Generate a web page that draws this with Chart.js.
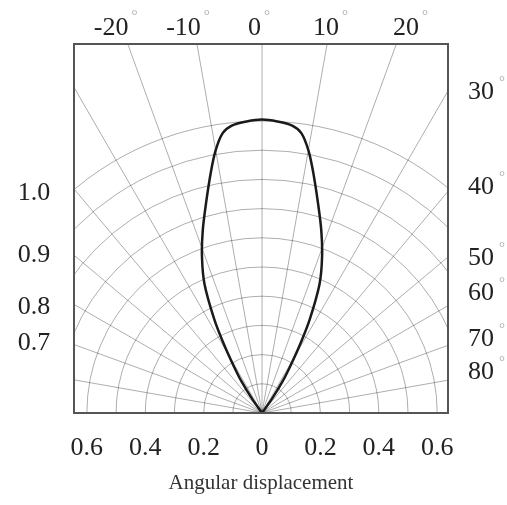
<!DOCTYPE html>
<html>
<head>
<meta charset="utf-8">
<script src="https://cdn.jsdelivr.net/npm/chart.js@4.4.1/dist/chart.umd.min.js"></script>
<style>
  html, body { margin: 0; padding: 0; background: #fff; }
  #wrap { width: 507px; height: 505px; }
</style>
</head>
<body>
<div id="wrap"><canvas id="chart"></canvas></div>
<script>
// lobe: angle from axis (deg) and relative intensity
var lobeAngles = [-35, -33, -31, -29, -27, -24, -21, -18, -15, -12, -10, -8, -6, -3, 0, 3, 6, 8, 10, 12, 15, 18, 21, 24, 27, 29, 31, 33, 35];
var lobeIntensity = [0.06, 0.13, 0.19, 0.27, 0.36, 0.485, 0.574, 0.657, 0.742, 0.843, 0.914, 0.968, 0.99, 1.0, 1.005, 1.0, 0.99, 0.968, 0.914, 0.843, 0.742, 0.657, 0.574, 0.485, 0.36, 0.27, 0.19, 0.13, 0.06];

var xTicks = [-0.6, -0.4, -0.2, 0, 0.2, 0.4, 0.6];
var ringValues = [0.1, 0.2, 0.3, 0.4, 0.5, 0.6, 0.7, 0.8, 0.9, 1.0];
var rayAngles = [-80, -70, -60, -50, -40, -30, -20, -10, 0, 10, 20, 30, 40, 50, 60, 70, 80];

var topLabels = ['-20', '-10', '0', '10', '20'];
var topLabelPos = [-0.517, -0.269, -0.026, 0.219, 0.493];
var rightLabels = ['30', '40', '50', '60', '70', '80'];
var rightLabelPos = [1.099, 0.774, 0.531, 0.411, 0.253, 0.140];
var leftLabels = ['1.0', '0.9', '0.8', '0.7'];
var leftLabelPos = [0.753, 0.541, 0.363, 0.240];

// polar -> x/y values, closed at the origin on both ends
var lobePoints = [{x: 0, y: 0}];
for (var i = 0; i < lobeAngles.length; i++) {
    var a = lobeAngles[i] * Math.PI / 180;
    lobePoints.push({x: lobeIntensity[i] * Math.sin(a), y: lobeIntensity[i] * Math.cos(a)});
}
lobePoints.push({x: 0, y: 0});

var serif = '"Liberation Serif", "Times New Roman", serif';

var polarGrid = {
    id: 'polarGrid',
    beforeDatasetsDraw: function(chart) {
        var ctx = chart.ctx, area = chart.chartArea;
        var xs = chart.scales.x, ys = chart.scales.y;
        var ox = xs.getPixelForValue(0), oy = ys.getPixelForValue(0);
        var unit = xs.getPixelForValue(1) - ox;
        ctx.save();
        ctx.beginPath();
        ctx.rect(area.left, area.top, area.right - area.left, area.bottom - area.top);
        ctx.clip();
        ctx.strokeStyle = 'rgba(0,0,0,0.32)';
        ctx.lineWidth = 1;
        ringValues.forEach(function(r) {
            ctx.beginPath();
            ctx.arc(ox, oy, r * unit, Math.PI, 2 * Math.PI);
            ctx.stroke();
        });
        rayAngles.forEach(function(d) {
            var a = d * Math.PI / 180;
            ctx.beginPath();
            ctx.moveTo(ox, oy);
            ctx.lineTo(ox + Math.sin(a) * 3 * unit, oy - Math.cos(a) * 3 * unit);
            ctx.stroke();
        });
        ctx.restore();
    },
    afterDraw: function(chart) {
        var ctx = chart.ctx, area = chart.chartArea;
        var xs = chart.scales.x, ys = chart.scales.y;
        ctx.save();
        ctx.strokeStyle = '#555';
        ctx.lineWidth = 2;
        ctx.strokeRect(area.left, area.top, area.right - area.left, area.bottom - area.top);

        ctx.textBaseline = 'middle';
        ctx.textAlign = 'center';
        var degFont = '15px ' + serif;

        topLabels.forEach(function(t, i) {
            var cx = xs.getPixelForValue(topLabelPos[i]);
            var cy = area.top - 16;
            ctx.font = '26px ' + serif;
            ctx.fillStyle = '#222';
            ctx.fillText(t, cx, cy);
            var w = ctx.measureText(t).width;
            ctx.font = degFont;
            ctx.fillStyle = '#aaa';
            ctx.fillText('°', cx + w / 2 + 6, cy - 12);
        });
        rightLabels.forEach(function(t, i) {
            var cx = area.right + 33;
            var cy = ys.getPixelForValue(rightLabelPos[i]);
            ctx.font = '26px ' + serif;
            ctx.fillStyle = '#222';
            ctx.fillText(t, cx, cy);
            ctx.font = degFont;
            ctx.fillStyle = '#aaa';
            ctx.fillText('°', cx + 21, cy - 10);
        });
        ctx.font = '26px ' + serif;
        ctx.fillStyle = '#222';
        leftLabels.forEach(function(t, i) {
            ctx.fillText(t, area.left - 40, ys.getPixelForValue(leftLabelPos[i]));
        });
        ctx.restore();
    }
};

var ctx = document.getElementById('chart').getContext('2d');

var myChart = new Chart(ctx, {
    type: 'scatter',
    data: {
        datasets: [{
            label: 'Relative intensity',
            data: lobePoints,
            showLine: true,
            borderColor: '#1a1a1a',
            borderWidth: 2.5,
            pointRadius: 0,
            tension: 0.3,
            fill: false
        }]
    },
    options: {
        responsive: true,
        maintainAspectRatio: false,
        animation: false,
        layout: {
            padding: {left: 74, right: 59, top: 44, bottom: 0}
        },
        plugins: {
            legend: {display: false},
            tooltip: {enabled: false}
        },
        scales: {
            x: {
                type: 'linear',
                min: -0.644,
                max: 0.637,
                grid: {display: false, drawTicks: false},
                border: {display: false},
                afterBuildTicks: function(scale) {
                    scale.ticks = xTicks.map(function(v) { return {value: v}; });
                },
                afterFit: function(scale) {
                    scale.height = 92;
                },
                ticks: {
                    padding: 20,
                    color: '#222',
                    font: {family: serif, size: 26},
                    maxRotation: 0,
                    autoSkip: false,
                    callback: function(v) {
                        return v === 0 ? '0' : Math.abs(v).toFixed(1);
                    }
                },
                title: {
                    display: true,
                    text: 'Angular displacement',
                    color: '#333',
                    font: {family: serif, size: 21},
                    padding: {top: 0, bottom: 9}
                }
            },
            y: {
                type: 'linear',
                display: false,
                min: 0,
                max: 1.264
            }
        }
    },
    plugins: [polarGrid]
});
</script>
</body>
</html>
